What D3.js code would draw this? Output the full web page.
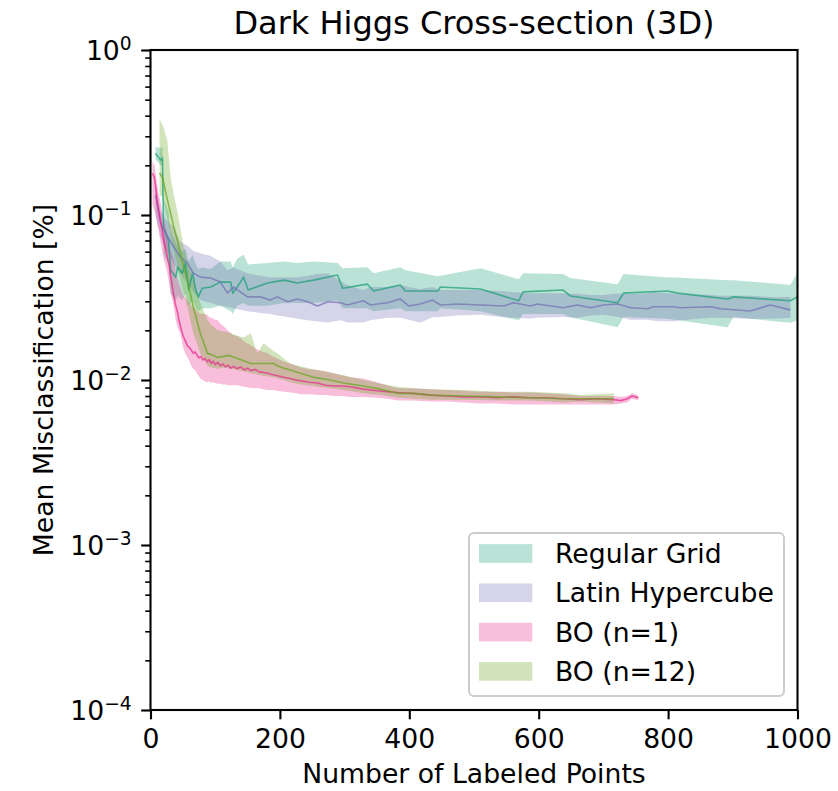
<!DOCTYPE html>
<html><head><meta charset="utf-8">
<script src="https://cdn.jsdelivr.net/npm/d3@7"></script>
<style>body{margin:0;background:#fff}svg{display:block}text{font-family:"DejaVu Sans",sans-serif;fill:#000}</style>
</head><body><svg id="c" width="838" height="791"></svg>
<script>
// ---------------- data ----------------
const seriesNames = ["Regular Grid", "Latin Hypercube", "BO (n=1)", "BO (n=12)"];
const seriesColors = ["#1b9e77", "#7570b3", "#e7298a", "#66a61e"];
const xTicks = [0, 200, 400, 600, 800, 1000];
const yTicks = [1e-4, 1e-3, 1e-2, 1e-1, 1];
const yTickExps = ["\u22124", "\u22123", "\u22122", "\u22121", "0"];
const titleText = "Dark Higgs Cross-section (3D)";
const xLabelText = "Number of Labeled Points";
const yLabelText = "Mean Misclassification [%]";

// Regular Grid
const rgX    = [7.7,15.5,18.5,20,28,31,39,42,49,54,59,65,70,74,80,93,108,124,127,134,144,151,181,206,227,252,289,297,335,345,386,394,444,448,510,569,576,638,649,722,731,799,815,892,901,989,1000];
const rgMean = [0.237,0.215,0.222,0.084,0.070,0.0464,0.042,0.0483,0.0444,0.0511,0.0351,0.0444,0.0351,0.0319,0.036,0.0366,0.0392,0.0392,0.0336,0.0366,0.042,0.0351,0.0387,0.0403,0.0387,0.0403,0.0433,0.036,0.0381,0.0346,0.0376,0.0346,0.0346,0.0366,0.0356,0.0302,0.0342,0.0351,0.0323,0.0294,0.0336,0.0346,0.0336,0.031,0.0319,0.0302,0.0319];
const rgLo   = [0.217,0.201,0.201,0.058,0.050,0.0335,0.0303,0.0324,0.0303,0.0335,0.0282,0.0303,0.0272,0.0261,0.0272,0.0272,0.0282,0.0261,0.0251,0.0282,0.0293,0.0282,0.0282,0.0293,0.0293,0.0293,0.0303,0.0272,0.0272,0.0261,0.0272,0.0261,0.0261,0.0272,0.0261,0.023,0.0251,0.0251,0.024,0.0209,0.0241,0.0235,0.023,0.0209,0.0241,0.0222,0.023];
const rgHi   = [0.259,0.254,0.259,0.126,0.105,0.0786,0.068,0.065,0.0596,0.0627,0.0523,0.0575,0.0502,0.047,0.048,0.047,0.0523,0.0523,0.048,0.0543,0.0575,0.0502,0.0512,0.0523,0.0512,0.0523,0.0512,0.0476,0.0483,0.0444,0.0483,0.0463,0.0426,0.0428,0.0476,0.0408,0.0444,0.0439,0.0415,0.0381,0.0439,0.0418,0.0418,0.0403,0.0403,0.0376,0.0449];

// Latin Hypercube
const lhX    = [7.7,15.5,23,36,46,57,66,77,93,108,119,128,150,170,185,196,212,227,243,258,274,294,304,329,340,366,386,399,417,436,448,474,510,546,561,587,598,638,660,680,700,722,742,768,777,808,819,866,881,927,958,989];
const lhMean = [0.132,0.0895,0.0778,0.064,0.0556,0.0512,0.0445,0.042,0.0415,0.0392,0.0336,0.0366,0.0319,0.0319,0.0305,0.0319,0.0298,0.031,0.0298,0.0281,0.0298,0.0294,0.0285,0.0302,0.0285,0.0294,0.031,0.0281,0.0289,0.0305,0.0285,0.0289,0.0285,0.0281,0.0294,0.0281,0.0289,0.0274,0.0285,0.0274,0.0285,0.0289,0.0274,0.027,0.0278,0.0278,0.0274,0.0278,0.027,0.0262,0.0285,0.0266];
const lhLo   = [0.1,0.0737,0.063,0.0503,0.044,0.0387,0.0345,0.0305,0.0293,0.0282,0.0278,0.0272,0.0261,0.0255,0.0251,0.0246,0.0241,0.0235,0.023,0.0226,0.0223,0.023,0.0223,0.0223,0.023,0.0238,0.0238,0.0232,0.0223,0.024,0.0241,0.0246,0.0249,0.024,0.0238,0.0235,0.0238,0.0241,0.0238,0.0246,0.0249,0.0241,0.0232,0.0232,0.0229,0.0226,0.023,0.0238,0.0238,0.0235,0.0235,0.0238];
const lhHi   = [0.158,0.105,0.0946,0.084,0.0692,0.065,0.0607,0.0587,0.0565,0.0523,0.0463,0.0481,0.0444,0.0428,0.042,0.042,0.042,0.042,0.0428,0.0439,0.0444,0.0397,0.0376,0.0351,0.0366,0.0366,0.0376,0.0366,0.0355,0.0366,0.0351,0.0351,0.0351,0.0345,0.034,0.0336,0.0336,0.0336,0.0332,0.0327,0.0327,0.0334,0.0332,0.0336,0.034,0.0334,0.0332,0.0327,0.0324,0.0324,0.0319,0.0319];

// BO (n=1)
const b1X    = [3,6,8,10,12,15,18,20,23,26,29,31,34,36,39,42,44,46,49,51,54,57,60,63,66,69,72,75,78,81,84,88,91,94,97,100,104,108,112,116,120,124,128,134,139,145,150,155,162,168,175,181,188,196,206,216,225,232,245,258,270,283,296,309,329,350,366,382,405,433,458,484,510,536,560,587,612,638,665,690,716,727,737,744,750,754];
const b1Mean = [0.179,0.169,0.148,0.124,0.111,0.0938,0.082,0.0715,0.063,0.0556,0.0493,0.043,0.0366,0.0324,0.0282,0.0256,0.023,0.0214,0.0193,0.0183,0.0172,0.0161,0.0158,0.0152,0.0145,0.0148,0.0141,0.0136,0.0139,0.0132,0.0135,0.0129,0.0133,0.0126,0.013,0.0124,0.0128,0.0122,0.0125,0.012,0.0123,0.0118,0.0121,0.0117,0.012,0.0115,0.0118,0.0114,0.0116,0.0112,0.0111,0.011,0.0108,0.0106,0.0104,0.0102,0.01,0.0099,0.0097,0.0096,0.0093,0.0092,0.0092,0.0091,0.0088,0.0086,0.0085,0.0084,0.0083,0.0081,0.008,0.0079,0.0079,0.0078,0.0079,0.0078,0.0078,0.0077,0.0076,0.0077,0.0076,0.0075,0.0077,0.008,0.0079,0.0078];
const b1Lo   = [0.116,0.106,0.1,0.0895,0.0822,0.0705,0.061,0.0546,0.0494,0.0446,0.0377,0.0335,0.0303,0.0278,0.023,0.0209,0.0198,0.0193,0.0167,0.0154,0.0143,0.0138,0.013,0.0122,0.0117,0.0115,0.0109,0.0105,0.0101,0.01,0.0098,0.0097,0.0098,0.0096,0.0097,0.0096,0.0095,0.0095,0.0094,0.0094,0.0093,0.0093,0.0093,0.0093,0.0092,0.0091,0.009,0.00895,0.0089,0.0089,0.0088,0.0087,0.0087,0.0086,0.0085,0.0084,0.0083,0.0082,0.0082,0.0081,0.0081,0.008,0.008,0.0079,0.0079,0.0078,0.0077,0.0075,0.0075,0.0074,0.0074,0.0073,0.0072,0.0072,0.0071,0.0071,0.0071,0.0071,0.0071,0.0071,0.0071,0.0072,0.0073,0.0077,0.0076,0.0075];
const b1Hi   = [0.211,0.2,0.179,0.158,0.137,0.123,0.105,0.0946,0.0862,0.0777,0.0661,0.0607,0.0565,0.0533,0.045,0.0408,0.0387,0.0366,0.0335,0.0324,0.0314,0.0305,0.0293,0.0282,0.0278,0.0272,0.0261,0.0256,0.0251,0.0253,0.0251,0.0249,0.024,0.0238,0.0235,0.0232,0.023,0.0219,0.0214,0.0206,0.0198,0.0193,0.0187,0.0185,0.0179,0.0171,0.0166,0.0163,0.0155,0.0151,0.0148,0.0145,0.014,0.0135,0.0129,0.0126,0.0122,0.0119,0.0116,0.0115,0.0113,0.011,0.0107,0.0104,0.0102,0.0097,0.0093,0.0089,0.0089,0.0088,0.0087,0.0086,0.0085,0.0085,0.0084,0.0084,0.0083,0.0082,0.008,0.008,0.008,0.0079,0.008,0.0083,0.0082,0.008];

// BO (n=12)
const b12X    = [14,19,26,31,36,42,46,51,57,66,77,88,93,104,113,119,124,134,144,155,165,175,190,196,206,216,232,252,258,278,298,329,356,382,408,433,484,536,587,640,665,716];
const b12Mean = [0.18,0.167,0.124,0.103,0.0845,0.0694,0.059,0.0493,0.0404,0.0278,0.0192,0.0145,0.0143,0.0137,0.0139,0.0141,0.014,0.0135,0.0131,0.0126,0.0126,0.0126,0.0126,0.0122,0.0118,0.0115,0.011,0.0104,0.0103,0.01,0.0096,0.0092,0.0088,0.0083,0.0083,0.0081,0.008,0.0079,0.0078,0.0077,0.0077,0.0077];
const b12Lo   = [0.132,0.129,0.0935,0.0758,0.0615,0.0483,0.0405,0.0335,0.0278,0.0192,0.0145,0.0122,0.0119,0.0117,0.0119,0.0118,0.0117,0.0115,0.0113,0.011,0.0108,0.0106,0.0104,0.0102,0.01,0.0097,0.0094,0.0092,0.0091,0.0089,0.0087,0.0083,0.0081,0.0078,0.0077,0.0076,0.0076,0.0075,0.0075,0.0073,0.0074,0.0072];
const b12Hi   = [0.38,0.35,0.283,0.17,0.132,0.103,0.0842,0.064,0.0524,0.0404,0.0294,0.0231,0.0218,0.02,0.0197,0.0195,0.0192,0.0186,0.0181,0.0192,0.0145,0.0167,0.015,0.0145,0.0135,0.0126,0.0121,0.0116,0.0115,0.0111,0.0107,0.01,0.0095,0.0091,0.0089,0.0088,0.0087,0.0085,0.0085,0.0083,0.0081,0.0083];

// ---------------- drawing ----------------
const W = 838, H = 791;
const L = 150.5, R = 797.5, T = 50, B = 710;
const FS = 26.67;
const svg = d3.select("#c");

const x = d3.scaleLinear().domain([0, 1000]).range([L, R]);
const y = d3.scaleLog().domain([1e-4, 1]).range([B, T]);

const series = [
  {x: rgX, m: rgMean, lo: rgLo, hi: rgHi},
  {x: lhX, m: lhMean, lo: lhLo, hi: lhHi},
  {x: b1X, m: b1Mean, lo: b1Lo, hi: b1Hi},
  {x: b12X, m: b12Mean, lo: b12Lo, hi: b12Hi}
].map((s, i) => ({
  name: seriesNames[i], color: seriesColors[i],
  pts: s.x.map((xv, j) => ({x: xv, m: s.m[j], lo: s.lo[j], hi: s.hi[j]}))
}));

svg.append("defs").append("clipPath").attr("id", "clip")
  .append("rect").attr("x", L).attr("y", T).attr("width", R - L).attr("height", B - T);

const plot = svg.append("g").attr("clip-path", "url(#clip)");
const area = d3.area().x(d => x(d.x)).y0(d => y(d.lo)).y1(d => y(d.hi));
const line = d3.line().x(d => x(d.x)).y(d => y(d.m));

series.forEach(s => {
  plot.append("path").attr("d", area(s.pts)).attr("fill", s.color).attr("fill-opacity", 0.3).attr("stroke", "none");
});
series.forEach(s => {
  plot.append("path").attr("d", line(s.pts)).attr("fill", "none").attr("stroke", s.color)
    .attr("stroke-opacity", 0.72).attr("stroke-width", 1.6).attr("stroke-linejoin", "round");
});

// x axis
const xAxis = svg.append("g").attr("transform", `translate(0,${B})`)
  .call(d3.axisBottom(x).tickValues(xTicks).tickSize(9.3).tickPadding(9.5).tickFormat(d3.format("d")));
xAxis.select(".domain").remove();
xAxis.selectAll(".tick line").attr("stroke", "#000").attr("stroke-width", 2.1);
xAxis.selectAll(".tick text").attr("font-size", FS).attr("font-family", "DejaVu Sans");

// y axis minor ticks
const minor = [];
for (let e = -4; e < 0; e++) for (let k = 2; k <= 9; k++) minor.push(k * Math.pow(10, e));
const yMinor = svg.append("g").attr("transform", `translate(${L},0)`)
  .call(d3.axisLeft(y).tickValues(minor).tickSize(5.3).tickFormat(""));
yMinor.select(".domain").remove();
yMinor.selectAll(".tick line").attr("stroke", "#000").attr("stroke-width", 1.6);

// y axis major ticks
const yAxis = svg.append("g").attr("transform", `translate(${L},0)`)
  .call(d3.axisLeft(y).tickValues(yTicks).tickSize(9.3).tickFormat(""));
yAxis.select(".domain").remove();
yAxis.selectAll(".tick line").attr("stroke", "#000").attr("stroke-width", 2.1);
yAxis.selectAll(".tick").each(function(d, i) {
  const t = d3.select(this).append("text").attr("x", -18.8).attr("y", 9.6)
    .attr("text-anchor", "end").attr("font-size", FS).attr("fill", "#000");
  t.append("tspan").text("10");
  t.append("tspan").attr("font-size", FS * 0.7).attr("dy", -10.5).text(yTickExps[i]);
});

// spines
svg.append("rect").attr("x", L).attr("y", T).attr("width", R - L).attr("height", B - T)
  .attr("fill", "none").attr("stroke", "#000").attr("stroke-width", 2.1);

// title & labels
svg.append("text").attr("x", (L + R) / 2).attr("y", 34).attr("text-anchor", "middle")
  .attr("font-size", 32).text(titleText);
svg.append("text").attr("x", (L + R) / 2).attr("y", 783).attr("text-anchor", "middle")
  .attr("font-size", FS).text(xLabelText);
svg.append("text").attr("transform", `translate(53,${(T + B) / 2}) rotate(-90)`).attr("text-anchor", "middle")
  .attr("font-size", FS).text(yLabelText);

// legend
const lg = svg.append("g");
lg.append("rect").attr("x", 469).attr("y", 533).attr("width", 315).attr("height", 163).attr("rx", 5)
  .attr("fill", "#fff").attr("fill-opacity", 0.8).attr("stroke", "#cccccc").attr("stroke-width", 2);
series.forEach((s, i) => {
  const cy = 553.5 + i * 39.3;
  lg.append("rect").attr("x", 479).attr("y", cy - 9.35).attr("width", 53.3).attr("height", 18.7)
    .attr("fill", s.color).attr("fill-opacity", 0.3);
  lg.append("text").attr("x", 555).attr("y", cy + 9.6).attr("font-size", FS).text(s.name);
});
</script></body></html>
